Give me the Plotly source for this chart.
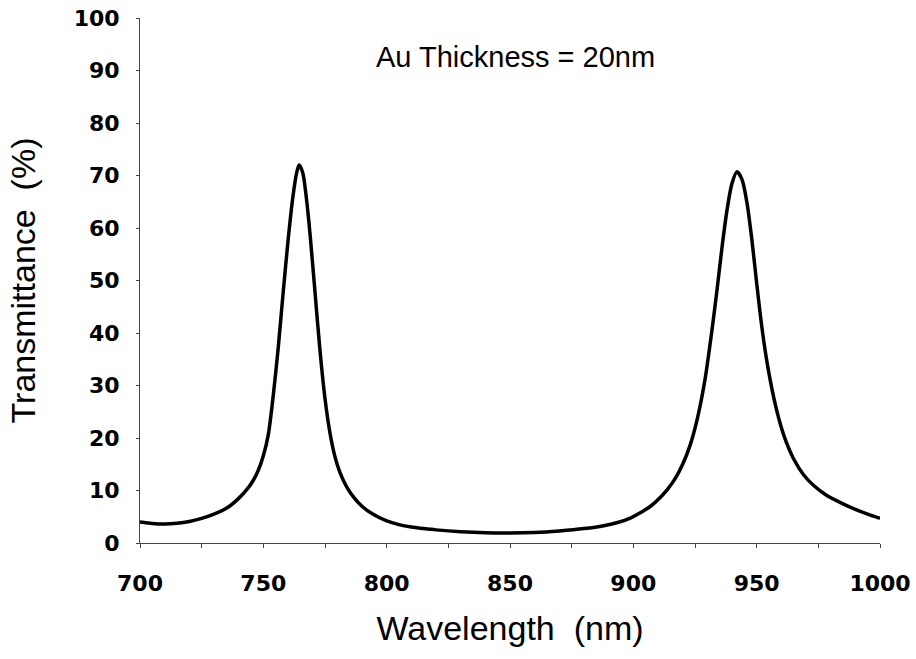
import plotly.graph_objects as go

# Data
wavelength_nm = [700, 705, 710, 715, 720, 725, 730, 735, 740, 744, 746, 748, 750, 752, 754,
                 756, 758, 760, 762, 763.5, 764.5, 766, 767.5, 769, 771, 773, 775, 777, 779, 781,
                 784, 787, 790, 794, 800, 805, 810, 815, 820, 830, 840, 850, 860, 870, 880,
                 888, 894, 899, 903, 907, 911, 914, 917, 920, 923, 926, 929, 932, 934, 936,
                 938, 940, 942, 944, 946, 948, 950, 952, 954, 956, 958, 960, 962, 965, 969,
                 973, 978, 984, 990, 995, 1000]
transmittance_pct = [4.0, 3.7, 3.6, 3.75, 4.1, 4.7, 5.5, 6.6, 8.5, 10.6, 12.0, 13.9, 16.6, 20.6, 28.0,
                     37.0, 47.5, 57.5, 66.0, 70.5, 72.0, 70.5, 65.5, 58.5, 47.5, 36.5, 27.5, 21.0, 16.5, 13.5,
                     10.5, 8.5, 7.0, 5.6, 4.2, 3.5, 3.05, 2.75, 2.5, 2.15, 1.95, 1.9, 2.0, 2.3, 2.75,
                     3.3, 3.95, 4.8, 5.8, 7.0, 8.7, 10.3, 12.3, 15.0, 18.6, 23.8, 31.0, 41.0, 48.5, 56.5,
                     63.5, 68.5, 70.7, 69.3, 65.0, 58.0, 49.5, 41.5, 35.0, 29.8, 25.5, 22.0, 19.2, 16.0, 13.0,
                     11.0, 9.2, 7.7, 6.4, 5.5, 4.7]

x_ticks = [700, 750, 800, 850, 900, 950, 1000]
y_ticks = [0, 10, 20, 30, 40, 50, 60, 70, 80, 90, 100]

fig = go.Figure()
fig.add_trace(go.Scatter(
    x=wavelength_nm, y=transmittance_pct, mode="lines",
    line=dict(color="black", width=3.5, shape="spline", smoothing=0.8),
    showlegend=False, hoverinfo="skip"))

tick_font = dict(family="DejaVu Sans", size=22, color="black", weight="bold")
title_font = dict(family="Liberation Sans", size=34, color="black")

fig.update_layout(
    width=916, height=659,
    margin=dict(l=140, r=36, t=18, b=116, autoexpand=False),
    paper_bgcolor="white", plot_bgcolor="white",
    xaxis=dict(
        range=[700, 1000], tickvals=x_ticks, ticktext=[str(v) for v in x_ticks],
        showgrid=False, zeroline=False, showline=True, linecolor="#444", linewidth=1,
        ticks="outside", ticklen=4, tickcolor="#444", tickwidth=1,
        minor=dict(dtick=25, ticks="outside", ticklen=4, tickcolor="#444"),
        tickfont=tick_font, ticklabelstandoff=17, ticklabeloverflow="allow",
        automargin=False,
        title=dict(text="Wavelength  (nm)", font=title_font, standoff=20),
    ),
    yaxis=dict(
        range=[0, 100], tickvals=y_ticks, ticktext=[str(v) for v in y_ticks],
        showgrid=False, zeroline=False, showline=True, linecolor="#444", linewidth=1,
        ticks="outside", ticklen=3, tickcolor="#444", tickwidth=1,
        tickfont=tick_font, ticklabelstandoff=12, ticklabeloverflow="allow",
        automargin=False,
        title=dict(text="Transmittance  (%)", font=title_font, standoff=27),
    ),
    annotations=[dict(
        text="Au Thickness = 20nm", x=0.507, y=92.5, xref="paper", yref="y",
        showarrow=False, xanchor="center", yanchor="middle",
        font=dict(family="Liberation Sans", size=29, color="black"))],
)

# remove the page's default body margin so the figure fills the window exactly
fig.write_html("out.html", config={"displayModeBar": False},
               post_script="document.body.style.margin='0';")
